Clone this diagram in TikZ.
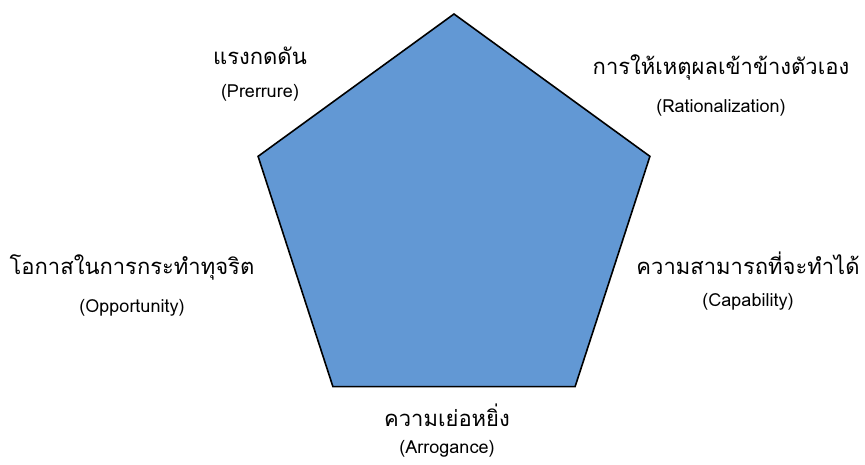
\documentclass[tikz,border=0pt]{standalone}
\usepackage{fontspec}
\newfontfamily\thaifont[Script=Thai]{Loma}
\newfontfamily\latinfont{Loma}
\usepackage{tikz}
\usetikzlibrary{positioning,shapes.geometric}
\definecolor{pentablue}{RGB}{98,152,212}

\begin{document}
\begin{tikzpicture}[
    x=1pt, y=-1pt,
    node distance=19pt,
    penta/.style={draw, line width=1.6pt, fill=pentablue, regular polygon, regular polygon sides=5, minimum size=412pt, inner sep=0pt},
    thai/.style={font=\thaifont\fontsize{22}{26}\selectfont, inner sep=0pt},
    eng/.style={font=\latinfont\fontsize{18}{22}\selectfont, inner sep=0pt}
  ]
    \useasboundingbox (0,0) rectangle (865,465);
    \node[penta] (fraud) at (454,220) {};
    % five labels round the pentagon
    \node[thai] (press) at (260,56) {แรงกดดัน};
    \node[eng, below=of press] (pressen) {(Prerrure)};
    \node[thai] (ration) at (721,67) {การให้เหตุผลเข้าข้างตัวเอง};
    \node[eng, below=of ration] (rationen) {(Rationalization)};
    \node[thai] (oppor) at (132,267) {โอกาสในการกระทำทุจริต};
    \node[eng, below=of oppor] (opporen) {(Opportunity)};
    \node[thai] (capab) at (748,263) {ความสามารถที่จะทำได้};
    \node[eng, below=of capab] (capaben) {(Capability)};
    \node[thai] (arrog) at (447,415) {ความเย่อหยิ่ง};
    \node[eng, below=14pt of arrog] (arrogen) {(Arrogance)};
\end{tikzpicture}
\end{document}
